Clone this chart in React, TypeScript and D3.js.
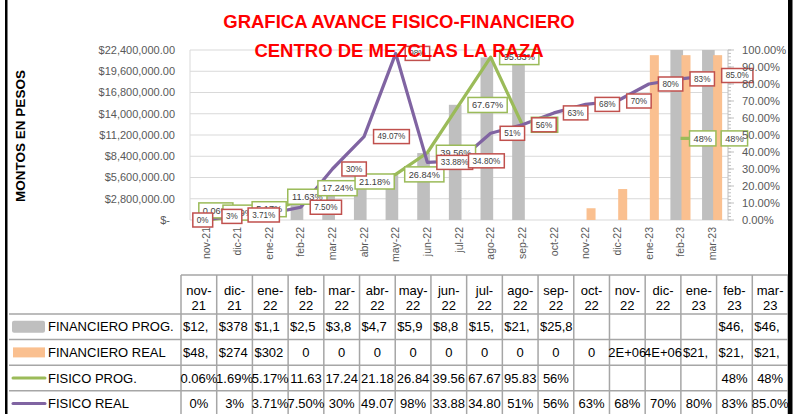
import React from 'react';
import * as d3 from 'd3';

// ---------- data ----------
const categories = ['nov-21', 'dic-21', 'ene-22', 'feb-22', 'mar-22', 'abr-22', 'may-22', 'jun-22', 'jul-22', 'ago-22', 'sep-22', 'oct-22', 'nov-22', 'dic-22', 'ene-23', 'feb-23', 'mar-23'];
const financieroProg: (number | null)[] = [12450, 378200, 1105000, 2520000, 3810000, 4730000, 5910000, 8820000, 15180000, 21420000, 25840000, null, null, null, null, 46350000, 46350000];
const financieroReal: number[] = [48300, 274500, 302100, 0, 0, 0, 0, 0, 0, 0, 0, 0, 1550000, 4080000, 21720000, 21720000, 21720000];
const financieroRealFormat = ['c', 'c', 'c', 'g', 'g', 'g', 'g', 'g', 'g', 'g', 'g', 'g', 'g', 'g', 'c', 'c', 'c'];
const fisicoProg: (number | null)[] = [0.0006, 0.0169, 0.0517, 0.1163, 0.1724, 0.2118, 0.2684, 0.3956, 0.6767, 0.9583, 0.56, null, null, null, null, 0.48, 0.48];
const fisicoProgDecimals = [2, 2, 2, 2, 2, 2, 2, 2, 2, 2, 0, 0, 0, 0, 0, 0, 0];
const fisicoReal: number[] = [0, 0.03, 0.0371, 0.075, 0.30, 0.4907, 0.98, 0.3388, 0.348, 0.51, 0.56, 0.63, 0.68, 0.70, 0.80, 0.83, 0.85];
const fisicoRealDecimals = [0, 0, 2, 2, 0, 2, 0, 2, 2, 0, 0, 0, 0, 0, 0, 0, 1];
const leftTicks = [0, 2800000, 5600000, 8400000, 11200000, 14000000, 16800000, 19600000, 22400000];
const rightTicks = [0, 0.1, 0.2, 0.3, 0.4, 0.5, 0.6, 0.7, 0.8, 0.9, 1.0];
const titleLines = ['GRAFICA AVANCE FISICO-FINANCIERO', 'CENTRO DE MEZCLAS LA RAZA'];
const yAxisTitle = 'MONTOS EN PESOS';
const seriesNames = ['FINANCIERO PROG.', 'FINANCIERO REAL', 'FISICO PROG.', 'FISICO REAL'];

// label placement nudges (layout only): [box-left offset from point, box-center y offset]
const progLabelNudge: [number, number][] = [[-7, -9.5], [-14.5, -4.5], [-17, -2], [-13, -3.5], [-14.5, -2.5], [-9, -2.5]];
const realLabelNudge: [number, number][] = [[-13, 0], [-15.5, 1.5], [-21, 1.3]];

// ---------- style ----------
const FONT = "'Liberation Sans', Arial, sans-serif";
const GRAY = '#BFBFBF';
const ORANGE = '#FAC090';
const GREEN = '#9BBB59';
const PURPLE = '#8064A2';
const RED = '#C0504D';
const plot = { left: 190, right: 728, top: 50, bottom: 220 };

const charW: Record<string, number> = { '.': 0.278, ',': 0.278, '%': 0.889, '$': 0.556, '-': 0.333, 'E': 0.667, '+': 0.584 };
function textWidth(s: string, size: number) {
  let t = 0;
  for (const ch of s) t += charW[ch] ?? 0.556;
  return t * size;
}
const pct = (v: number, dec: number) => (v * 100).toFixed(dec) + '%';
const cur = d3.format('$,.2f');
function general(v: number) {
  if (v === 0) return '0';
  return v.toExponential(0).toUpperCase().replace(/E([+-])(\d)$/, 'E$10$2');
}

function DataLabel({ px, py, text, color, size, pad, h, nudge }: any) {
  const w = textWidth(text, size) + pad * 2;
  const left = px + nudge[0];
  const cy = py + nudge[1];
  return (
    <g>
      <rect x={left} y={cy - h / 2} width={w} height={h} fill="#fff" stroke={color} strokeWidth={1.5} />
      <text x={left + w / 2} y={cy} dy="0.35em" textAnchor="middle" fontSize={size} fill="#404040" fontFamily={FONT}>{text}</text>
    </g>
  );
}

export default function App() {
  const x = d3.scaleBand<string>().domain(categories).range([plot.left, plot.right]);
  const bw = x.bandwidth();
  const cx = (i: number) => (x(categories[i]) as number) + bw / 2;
  const yL = d3.scaleLinear().domain([0, 22400000]).range([plot.bottom, plot.top]);
  const yR = d3.scaleLinear().domain([0, 1]).range([plot.bottom, plot.top]);

  const line = d3.line<number | null>()
    .defined((d) => d != null)
    .x((_, i) => cx(i))
    .y((d) => yR(d as number));

  const minorTicks = d3.range(0, 51).map((i) => i * 0.02);

  // ---------- table ----------
  const tLeft = 9;
  const colStart = 181;
  const colW = (788 - colStart) / categories.length;
  const headTop = 275;
  const headBottom = 314;
  const rowH = 25.6;
  const tSize = 13;

  type Cell = { text: string; kind: 'cur' | 'num' } | null;
  const rows: Cell[][] = [
    financieroProg.map((v) => (v == null ? null : { text: cur(v), kind: 'cur' })),
    financieroReal.map((v, i) => (financieroRealFormat[i] === 'c' ? { text: cur(v), kind: 'cur' } : { text: general(v), kind: 'num' })),
    fisicoProg.map((v, i) => (v == null ? null : { text: pct(v, fisicoProgDecimals[i]), kind: 'num' })),
    fisicoReal.map((v, i) => ({ text: pct(v, fisicoRealDecimals[i]), kind: 'num' })),
  ];

  const renderCell = (cell: Cell, ri: number, ci: number, row: Cell[]) => {
    if (!cell) return null;
    const left = colStart + ci * colW;
    const base = headBottom + ri * rowH + rowH / 2 + 4.6;
    if (cell.kind === 'cur') {
      const nextEmpty = ci < row.length - 1 && row[ci + 1] == null;
      const limit = colW - 3.5 + (nextEmpty ? 6 : 0);
      let s = '';
      for (const ch of cell.text) {
        if (textWidth(s + ch, tSize) > limit) break;
        s += ch;
      }
      return <text key={ci} x={left + 2} y={base} fontSize={tSize} fontFamily={FONT} fill="#000">{s}</text>;
    }
    let s = cell.text;
    if (textWidth(s, tSize) > colW + 4) {
      while (s.length > 1 && textWidth(s, tSize) > colW + 1) s = s.slice(0, -1);
    }
    return <text key={ci} x={left + colW / 2} y={base} textAnchor="middle" fontSize={tSize} fontFamily={FONT} fill="#000">{s}</text>;
  };

  const legendKey = (ri: number) => {
    const cy = headBottom + ri * rowH + rowH / 2;
    if (ri === 0) return <rect x={12} y={cy - 6} width={33} height={12} rx={2} fill={GRAY} />;
    if (ri === 1) return <rect x={13} y={cy - 5} width={32} height={10} fill={ORANGE} />;
    return <line x1={13} x2={45} y1={cy} y2={cy} stroke={ri === 2 ? GREEN : PURPLE} strokeWidth={3} strokeLinecap="round" />;
  };

  return (
    <svg width={799} height={414} style={{ position: 'absolute', left: 0, top: 0, background: '#fff' }} fontFamily={FONT}>
      <defs>
        <clipPath id="plotClip">
          <rect x={plot.left} y={plot.top} width={plot.right - plot.left} height={plot.bottom - plot.top} />
        </clipPath>
      </defs>
      <rect x={0} y={0} width={799} height={414} fill="#fff" />

      {/* gridlines */}
      {leftTicks.map((t) => (
        <line key={t} x1={plot.left} x2={plot.right} y1={yL(t)} y2={yL(t)} stroke="#D9D9D9" strokeWidth={1} />
      ))}
      <line x1={plot.left} x2={plot.left} y1={plot.top} y2={plot.bottom} stroke="#D9D9D9" />

      {/* bars */}
      <g clipPath="url(#plotClip)">
        {financieroProg.map((v, i) =>
          v == null ? null : (
            <rect key={'g' + i} x={(x(categories[i]) as number) + bw * 0.18} width={bw * 0.4} y={yL(v)} height={plot.bottom - yL(v)} fill={GRAY} />
          )
        )}
        {financieroReal.map((v, i) =>
          v > 0 ? (
            <rect key={'o' + i} x={(x(categories[i]) as number) + bw * 0.53} width={bw * 0.285} y={yL(v)} height={plot.bottom - yL(v)} fill={ORANGE} />
          ) : null
        )}
      </g>

      {/* left axis labels */}
      {leftTicks.map((t) => (
        <text key={t} x={t === 0 ? 170 : 175} y={yL(t)} dy="0.35em" textAnchor="end" fontSize={11} fill="#595959">
          {t === 0 ? '$-' : cur(t)}
        </text>
      ))}

      {/* right axis */}
      <line x1={plot.right} x2={plot.right} y1={plot.top} y2={plot.bottom} stroke={GRAY} />
      {minorTicks.map((t, i) => (
        <line key={i} x1={plot.right} x2={plot.right + 3} y1={yR(t)} y2={yR(t)} stroke={GRAY} />
      ))}
      {rightTicks.map((t) => (
        <line key={t} x1={plot.right} x2={plot.right + 6} y1={yR(t)} y2={yR(t)} stroke={GRAY} />
      ))}

      {/* category labels */}
      {categories.map((c, i) => (
        <text key={c} transform={`translate(${cx(i)},227) rotate(-90)`} dy="0.35em" textAnchor="end" fontSize={10.5} fill="#595959">
          {c}
        </text>
      ))}

      {/* lines */}
      <path d={line(fisicoProg) || ''} fill="none" stroke={GREEN} strokeWidth={3.25} strokeLinejoin="round" />
      <path d={line(fisicoReal) || ''} fill="none" stroke={PURPLE} strokeWidth={3.25} strokeLinejoin="round" />

      {/* labels */}
      {fisicoProg.map((v, i) =>
        v == null ? null : (
          <DataLabel key={'gl' + i} px={cx(i)} py={yR(v)} text={pct(v, fisicoProgDecimals[i])} color={GREEN} size={9.2} pad={4} h={15} nudge={progLabelNudge[i] || [9, 0]} />
        )
      )}
      {fisicoReal.map((v, i) => (
        <DataLabel key={'rl' + i} px={cx(i)} py={yR(v)} text={pct(v, fisicoRealDecimals[i])} color={RED} size={8.2} pad={4} h={14} nudge={realLabelNudge[i] || [9.5, 0]} />
      ))}

      {/* right axis labels */}
      {rightTicks.map((t) => (
        <text key={t} x={742} y={yR(t)} dy="0.35em" fontSize={11.2} fill="#595959">
          {d3.format('.2%')(t)}
        </text>
      ))}

      {/* y axis title */}
      <text transform="translate(25,136) rotate(-90)" textAnchor="middle" fontSize={13.5} fontWeight="bold" fill="#000">
        {yAxisTitle}
      </text>

      {/* title */}
      {titleLines.map((t, i) => (
        <text key={t} x={399} y={28 + i * 28.5} textAnchor="middle" fontSize={18.5} fontWeight="bold" fill="#FF0000">
          {t}
        </text>
      ))}

      {/* data table */}
      <g>
        <line x1={colStart} x2={788} y1={headTop} y2={headTop} stroke="#A6A6A6" strokeWidth={1.5} />
        {[0, 1, 2, 3].map((r) => (
          <line key={r} x1={tLeft} x2={788} y1={headBottom + r * rowH} y2={headBottom + r * rowH} stroke="#A6A6A6" strokeWidth={1.5} />
        ))}
        {d3.range(categories.length + 1).map((i) => (
          <line key={i} x1={colStart + i * colW} x2={colStart + i * colW} y1={headTop} y2={414} stroke="#A6A6A6" strokeWidth={1.5} />
        ))}
        {categories.map((c, i) => {
          const [a, b] = c.split('-');
          return (
            <g key={c}>
              <text x={colStart + i * colW + colW / 2} y={295} textAnchor="middle" fontSize={tSize} fill="#000">{a + '-'}</text>
              <text x={colStart + i * colW + colW / 2} y={310} textAnchor="middle" fontSize={tSize} fill="#000">{b}</text>
            </g>
          );
        })}
        {seriesNames.map((n, ri) => (
          <g key={n}>
            {legendKey(ri)}
            <text x={48} y={headBottom + ri * rowH + rowH / 2 + 4.6} fontSize={tSize} fill="#000">{n}</text>
          </g>
        ))}
        {rows.map((row, ri) => <g key={ri}>{row.map((cell, ci) => renderCell(cell, ri, ci, row))}</g>)}
      </g>

      {/* frame */}
      <rect x={5} y={0} width={2.5} height={414} fill="#000" />
      <rect x={788} y={0} width={4.5} height={414} fill="#000" />
    </svg>
  );
}
